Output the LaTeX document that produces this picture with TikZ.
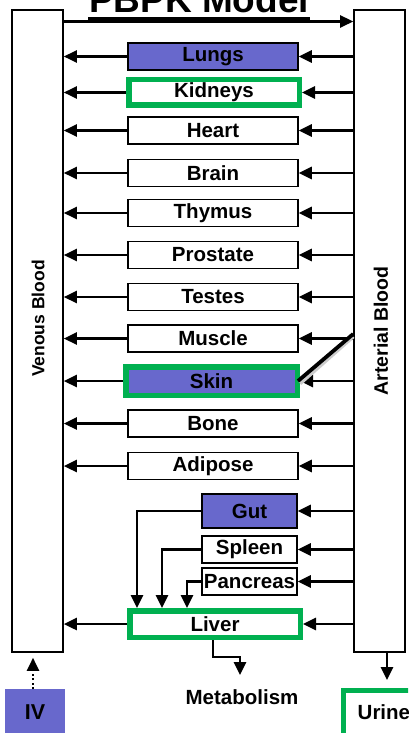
\documentclass[tikz,border=0pt]{standalone}
\usepackage{fontspec}
\setmainfont{Liberation Sans}
\usetikzlibrary{arrows.meta}
\definecolor{orgblue}{RGB}{104,104,204}
\definecolor{orggreen}{RGB}{0,176,80}
\begin{document}
\begin{tikzpicture}[x=1pt,y=-1pt,
  organ/.style={draw, line width=1.5pt, minimum width=170pt, minimum height=27pt, inner sep=0pt, font=\bfseries\fontsize{20.5}{24}\selectfont},
  bluebox/.style={organ, fill=orgblue},
  greenbox/.style={organ, draw=orggreen, line width=5.5pt},
  smallorgan/.style={organ, minimum width=95pt},
  lbl/.style={font=\bfseries\fontsize{20.5}{24}\selectfont, inner sep=0pt},
  arr/.style={line width=2.6pt, -{Triangle[length=13pt,width=12pt]}},
  bloodbox/.style={draw, line width=1.6pt, minimum width=51pt, minimum height=642pt, inner sep=0pt},
  bloodlbl/.style={rotate=90, font=\bfseries\fontsize{17.5}{20}\selectfont}
]
\useasboundingbox (0,0) rectangle (408,733);
\clip (0,0) rectangle (408,733);

% title
\node[anchor=base, inner sep=0pt, font=\bfseries\fontsize{37}{40}\selectfont] (title) at (199,13) {PBPK Model};
\draw[line width=2.5pt] (88,18.5) -- (310,18.5);

% blood compartments
\node[bloodbox] (venous) at (37.5,331) {};
\node[bloodbox] (arterial) at (379.5,331) {};
\node[bloodlbl] (vlbl) at (38,318.5) {Venous Blood};
\node[bloodlbl, font=\bfseries\fontsize{19.5}{22}\selectfont] (albl) at (381,331) {Arterial Blood};

\draw[arr] (venous.east |- 0,21.5) -- (arterial.west |- 0,21.5);

% organs
\node[bluebox] (lungs) at (213,56.5) {Lungs};
\node[greenbox, minimum width=170.5pt, minimum height=25.5pt] (kidneys) at (214,92.5) {Kidneys};
\node[organ] (heart) at (213,130.5) {Heart};
\node[organ] (brain) at (213,173) {Brain};
\node[organ] (thymus) at (213,213) {Thymus};
\node[organ] (prostate) at (213,255) {Prostate};
\node[organ] (testes) at (213,297) {Testes};
\node[organ] (muscle) at (213,338.5) {Muscle};
\node[greenbox, fill=orgblue, minimum width=171.5pt, minimum height=28.5pt] (skin) at (211.5,381) {Skin};
\node[organ] (bone) at (213,423.5) {Bone};
\node[organ] (adipose) at (213,466) {Adipose};
\node[smallorgan, fill=orgblue, minimum height=34pt] (gut) at (249.5,511) {Gut};
\node[smallorgan] (spleen) at (249.5,549.5) {Spleen};
\node[smallorgan] (pancreas) at (249.5,581.5) {Pancreas};
\node[greenbox, minimum width=170.5pt, minimum height=26.5pt] (liver) at (215,624) {Liver};

% arterial -> organs, organs -> venous
\foreach \o in {lungs,kidneys,heart,brain,thymus,prostate,testes,muscle,skin,bone,adipose,liver}{
  \draw[arr] (arterial.west |- \o.east) -- (\o.east);
  \draw[arr] (\o.west) -- (venous.east |- \o.west);
}
\foreach \o in {gut,spleen,pancreas}{
  \draw[arr] (arterial.west |- \o.east) -- (\o.east);
}

% splanchnic organs -> liver
\draw[arr] (gut.west) -| ([xshift=10pt]liver.north west);
\draw[arr] (spleen.west) -| ([xshift=35pt]liver.north west);
\draw[arr] (pancreas.west) -| ([xshift=60pt]liver.north west);

% pointer to skin
\draw[line width=3.8pt, gray!40] (arterial.west |- 0,336.5) -- (300,383.5);
\draw[line width=3.8pt] (arterial.west |- 0,334) -- (298,381);

% metabolism
\node[lbl] (metab) at (242,697) {Metabolism};
\coordinate (mtip) at (240,675);
\draw[arr] ([xshift=-2pt]liver.south) -- ++(0,17) -| (mtip);

% urine
\node[draw=orggreen, line width=5.5pt, minimum width=100pt, minimum height=50pt, anchor=north west, inner sep=0pt] (urine) at (340.75,687.75) {};
\node[lbl, anchor=west] (urinetxt) at (357.5,712) {Urine};
\draw[arr, shorten >=7.75pt] ([xshift=7.5pt]arterial.south) -- ([xshift=7.5pt]arterial.south |- urine.north);

% IV
\node[fill=orgblue, minimum width=60pt, minimum height=50pt, anchor=north west, inner sep=0pt] (iv) at (5,689) {};
\node[lbl, font=\bfseries\fontsize{21.5}{24}\selectfont] (ivtxt) at (35,712) {IV};
\draw[line width=2pt, dash pattern=on 2pt off 2.5pt, -{Triangle[length=13pt,width=12pt]}, shorten >=5pt] (iv.north -| 33,0) -- (venous.south -| 33,0);
\end{tikzpicture}
\end{document}
